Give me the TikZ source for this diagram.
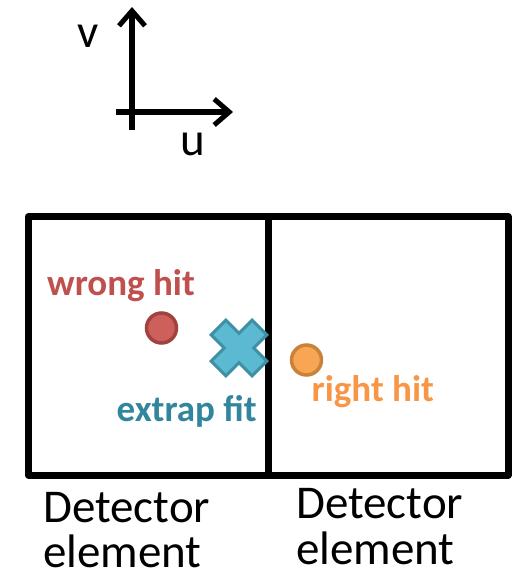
\documentclass[tikz,border=0pt]{standalone}
\usepackage{fontspec}
\setmainfont{Carlito}
\usetikzlibrary{arrows.meta}
\definecolor{wrongfill}{HTML}{CD605B}
\definecolor{wrongline}{HTML}{A0433F}
\definecolor{wrongtxt}{HTML}{C0504D}
\definecolor{rightfill}{HTML}{F9A654}
\definecolor{rightline}{HTML}{C9823A}
\definecolor{righttxt}{HTML}{F79646}
\definecolor{crossfill}{HTML}{5BB9D1}
\definecolor{crossline}{HTML}{3F90A4}
\definecolor{fittxt}{HTML}{31859C}
\tikzset{
  axis/.style={line width=5.5pt,-{Straight Barb[length=15pt,width=26pt,line width=5pt]}},
  frame/.style={line width=7pt,line join=round},
  hit/.style={circle,minimum size=30pt,inner sep=0pt,line width=3.5pt},
  lab/.style={font=\fontsize{37}{41}\selectfont\bfseries,inner sep=0pt,anchor=base west},
  big/.style={font=\fontsize{47}{52}\selectfont,inner sep=0pt,anchor=base west,
              text height=30pt,text depth=0pt}
}
\begin{document}
\begin{tikzpicture}[x=1pt,y=-1pt]
\useasboundingbox (0,0) rectangle (515,573);
% axes
\coordinate (vs) at (132,130);
\coordinate (vt) at (132,7);
\coordinate (us) at (116,112);
\coordinate (ut) at (233,112);
\draw[axis] (vs) -- (vt);
\draw[axis] (us) -- (ut);
\node[big,text height=21pt] (v) at (77,47) {v};
\node[big,text height=21pt] (u) at (180,155) {u};
% detector frames
\coordinate (tl) at (28.5,216.5);
\coordinate (br) at (508,475);
\coordinate (mt) at (268,216.5);
\coordinate (mb) at (268,475);
\draw[frame] (tl) rectangle (br);
\draw[frame] (mt) -- (mb);
% hits
\node[hit,draw=wrongline,fill=wrongfill] (wrong) at (161.5,328) {};
\node[hit,draw=rightline,fill=rightfill] (right) at (306.5,360) {};
\coordinate (fit) at (239,348);
\begin{scope}[shift={(fit)},rotate=45]
\fill[crossfill,draw=crossline,line width=3pt]
 (-10.5,-29) -- (10.5,-29) -- (10.5,-10.5) -- (29,-10.5) -- (29,10.5) -- (10.5,10.5)
 -- (10.5,29) -- (-10.5,29) -- (-10.5,10.5) -- (-29,10.5) -- (-29,-10.5) -- (-10.5,-10.5) -- cycle;
\end{scope}
% labels
\node[lab,text=wrongtxt] (wl) at (47,295) {wrong hit};
\node[lab,text=fittxt] (fl) at (116.5,421.5) {extrap fit};
\node[lab,text=righttxt] (rl) at (311.5,401.5) {right hit};
\node[big] (d1a) at (43,522) {Detector};
\node[big] (d1b) at (43,567) {element};
\node[big] (d2a) at (296,518) {Detector};
\node[big] (d2b) at (296,564) {element};
\end{tikzpicture}
\end{document}
